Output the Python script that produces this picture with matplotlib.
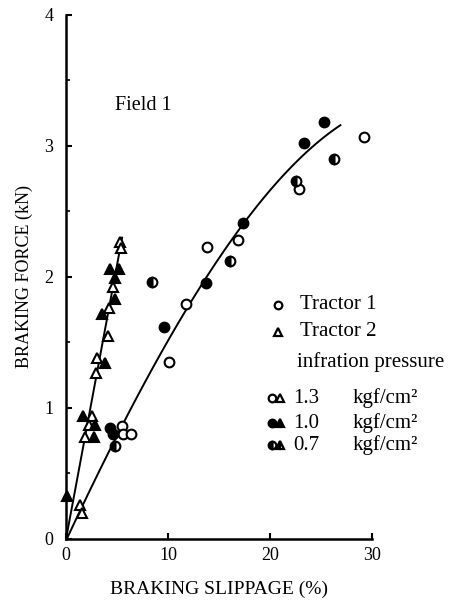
import matplotlib
matplotlib.use("Agg")
import matplotlib.pyplot as plt
import numpy as np

plt.rcParams['font.family'] = ['Liberation Serif', 'DejaVu Serif']

# tractor 1 (circles), by inflation pressure
t1_13_x = [29.2, 22.8, 16.9, 13.8, 11.8, 10.1, 5.5, 5.6, 6.4]
t1_13_y = [3.07, 2.67, 2.28, 2.23, 1.79, 1.35, 0.86, 0.80, 0.80]
t1_10_x = [25.3, 23.3, 17.35, 13.7, 9.6, 4.3, 4.6]
t1_10_y = [3.18, 3.02, 2.41, 1.95, 1.62, 0.85, 0.80]
t1_07_x = [26.3, 22.5, 16.1, 8.4, 4.8]
t1_07_y = [2.90, 2.73, 2.12, 1.96, 0.71]

# tractor 2 (triangles)
t2_13_x = [5.3, 5.4, 4.6, 4.2, 4.1, 3.0, 2.9, 2.5, 2.3, 1.9, 1.4, 1.6]
t2_13_y = [2.27, 2.22, 1.92, 1.76, 1.55, 1.38, 1.27, 0.94, 0.87, 0.78, 0.26, 0.20]
t2_10_x = [4.3, 5.2, 4.8, 4.8, 3.5, 3.8, 1.7, 2.8, 2.7, 0.1]
t2_10_y = [2.06, 2.06, 1.99, 1.83, 1.72, 1.34, 0.94, 0.87, 0.78, 0.33]

# fitted lines
fit1_x = [0, 4.8, 7.9, 11.8, 17.35, 20.8, 23.4, 26.9]
fit1_y = [0, 0.73, 1.21, 1.79, 2.41, 2.71, 2.93, 3.17]
fit2_x = [0, 5.5]
fit2_y = [0, 2.30]

fig = plt.figure(figsize=(4.5, 6.01), dpi=100)
ax = fig.add_axes([0.1467, 0.1032, 0.68, 0.872])

# smooth curve for tractor 1
coef = np.polyfit(fit1_x, fit1_y, 3)
xs = np.linspace(fit1_x[0], fit1_x[-1], 100)
ax.plot(xs, np.polyval(coef, xs), color='black', lw=1.4)
ax.plot(fit2_x, fit2_y, color='black', lw=1.4)

ms = 7
mew = 1.5
ax.plot(t1_13_x, t1_13_y, 'o', ms=ms, mfc='white', mec='black', mew=mew)
ax.plot(t1_10_x, t1_10_y, 'o', ms=ms, mfc='black', mec='black', mew=mew)
ax.plot(t1_07_x, t1_07_y, 'o', ms=ms, fillstyle='left', mfc='black',
        mfcalt='white', mec='black', mew=mew)
ax.plot(t2_13_x, t2_13_y, '^', ms=ms, mfc='white', mec='black', mew=mew,
        clip_on=False)
ax.plot(t2_10_x, t2_10_y, '^', ms=ms, mfc='black', mec='black', mew=mew,
        clip_on=False)

ax.set_xlim(0, 30)
ax.set_ylim(0, 4)
ax.set_xticks([0, 10, 20, 30])
ax.set_yticks([0, 1, 2, 3, 4])
ax.set_yticks(np.arange(0.5, 4, 1.0), minor=True)
ax.tick_params(direction='in', labelsize=13, width=1.5, length=4)
ax.tick_params(which='minor', direction='in', width=1.2, length=3)
ax.tick_params(axis='x', pad=6)
ax.tick_params(axis='y', pad=9)
for s in ['top', 'right']:
    ax.spines[s].set_visible(False)
for s in ['left', 'bottom']:
    ax.spines[s].set_linewidth(1.8)

ax.set_xlabel('BRAKING SLIPPAGE (%)', fontsize=14, labelpad=12)
ax.set_ylabel('BRAKING FORCE (kN)', fontsize=13, labelpad=8)

ax.text(0.16, 0.828, 'Field 1', transform=ax.transAxes, fontsize=14.5,
        va='center')

# legend drawn by hand
tr = ax.transAxes
ax.plot([0.693], [0.447], 'o', ms=5.5, mfc='white', mec='black', mew=1.6,
        transform=tr, clip_on=False)
ax.text(0.765, 0.447, 'Tractor 1', transform=tr, fontsize=15, va='center')
ax.plot([0.693], [0.395], '^', ms=5.5, mfc='white', mec='black', mew=1.6,
        transform=tr, clip_on=False)
ax.text(0.765, 0.395, 'Tractor 2', transform=tr, fontsize=15, va='center')
ax.text(0.755, 0.338, 'infration pressure', transform=tr, fontsize=15,
        va='center')

rows = [('1.3', 0.269, 'white', 'white', 'full'),
        ('1.0', 0.221, 'black', 'black', 'full'),
        ('0.7', 0.179, 'black', 'white', 'left')]
for lab, yy, fc, fca, fs in rows:
    ax.plot([0.673], [yy], 'o', ms=5.5, mfc=fc, mfcalt=fca, fillstyle=fs,
            mec='black', mew=1.6, transform=tr, clip_on=False)
    ax.plot([0.699], [yy], '^', ms=5.5, mfc=fc, mfcalt=fca, fillstyle=fs,
            mec='black', mew=1.6, transform=tr, clip_on=False)
    ax.text(0.742, yy, lab, transform=tr, fontsize=15, va='center')
    ax.text(0.938, yy, 'kgf/cm²', transform=tr, fontsize=15, va='center')

fig.savefig('out.png', dpi=100)
